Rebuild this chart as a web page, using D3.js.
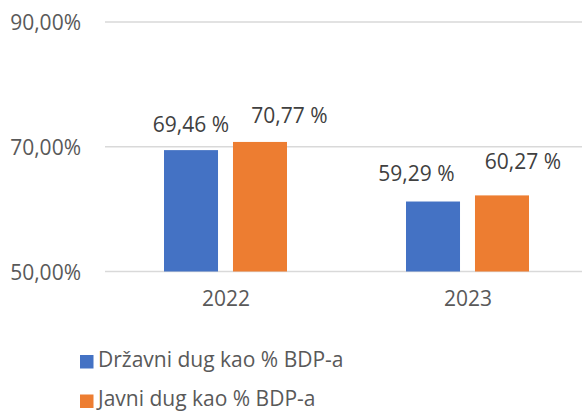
<!DOCTYPE html>
<html>
<head>
<meta charset="utf-8">
<script src="https://cdn.jsdelivr.net/npm/d3@7"></script>
<style>
  body { margin: 0; background: #fff; }
  svg { display: block; font-family: "Open Sans", sans-serif; }
</style>
</head>
<body>
<svg id="chart" width="582" height="412"></svg>
<script>
// data
var years = ['2022', '2023'];
var series_names = ['Državni dug kao % BDP-a', 'Javni dug kao % BDP-a'];
var drzavni = [69.46, 61.22];   // bar heights as drawn
var javni = [70.77, 62.2];
var drzavni_labels = ['69,46 %', '59,29 %'];
var javni_labels = ['70,77 %', '60,27 %'];
var y_ticks = [50, 70, 90];
var colors = ['#4472c4', '#ed7d31'];

// hand-moved data labels (dx, dy) per bar, in draw order
var label_nudge = [[0, 0], [29.5, 0], [-16.5, -2], [21, -8]];

var font_size = '21px';
var svg = d3.select('#chart');

var x0 = d3.scaleBand().domain(years).range([105, 589]).padding(0);
var x1 = d3.scaleBand().domain([0, 1]).range([59, 182]).paddingInner(0.217);
var y = d3.scaleLinear().domain([50, 90]).range([271.5, 22]);

// gridlines
svg.append('g')
    .selectAll('line')
    .data(y_ticks)
    .enter()
    .append('line')
    .attr('x1', 105)
    .attr('x2', 582)
    .attr('y1', function(d){ return y(d); })
    .attr('y2', function(d){ return y(d); })
    .attr('stroke', '#d9d9d9')
    .attr('stroke-width', 1.5);

// y axis labels
var y_axis = d3.axisLeft(y)
    .tickValues(y_ticks)
    .tickSize(0)
    .tickPadding(0)
    .tickFormat(function(t){ return t.toFixed(2).replace('.', ',') + '%'; });

var gy = svg.append('g')
    .attr('transform', 'translate(81,0)')
    .call(y_axis);
gy.select('.domain').remove();
gy.selectAll('text')
    .attr('fill', '#595959')
    .style('font-size', font_size)
    .style('font-family', '"Open Sans", sans-serif')
    .attr('dy', '0.36em');

// x axis labels
var x_axis = d3.axisBottom(x0).tickSize(0).tickPadding(0);
var gx = svg.append('g')
    .attr('transform', 'translate(0,287)')
    .call(x_axis);
gx.select('.domain').remove();
gx.selectAll('text')
    .attr('fill', '#595959')
    .style('font-size', font_size)
    .style('font-family', '"Open Sans", sans-serif')
    .attr('dy', '0.9em');

// bars
var table = [];
years.forEach(function(yr, i){
    table.push({year: yr, s: 0, value: drzavni[i], label: drzavni_labels[i]});
    table.push({year: yr, s: 1, value: javni[i], label: javni_labels[i]});
});

svg.append('g')
    .selectAll('rect')
    .data(table)
    .enter()
    .append('rect')
    .attr('x', function(d){ return x0(d.year) + x1(d.s); })
    .attr('width', x1.bandwidth())
    .attr('y', function(d){ return y(d.value); })
    .attr('height', function(d){ return y(50) - y(d.value); })
    .attr('fill', function(d){ return colors[d.s]; });

svg.append('g')
    .selectAll('text')
    .data(table)
    .enter()
    .append('text')
    .attr('x', function(d, i){ return x0(d.year) + x1(d.s) + x1.bandwidth() / 2 + label_nudge[i][0]; })
    .attr('y', function(d, i){ return y(d.value) - 18.5 + label_nudge[i][1]; })
    .attr('text-anchor', 'middle')
    .attr('fill', '#404040')
    .style('font-size', font_size)
    .text(function(d){ return d.label; });

// legend
var legend = svg.append('g')
    .selectAll('g')
    .data(series_names)
    .enter()
    .append('g')
    .attr('transform', function(d, i){ return 'translate(80,' + (355 + i * 39.5) + ')'; });

legend.append('rect')
    .attr('width', 13.5)
    .attr('height', 13.5)
    .attr('fill', function(d, i){ return colors[i]; });

legend.append('text')
    .attr('x', 18)
    .attr('y', 11.5)
    .attr('fill', '#595959')
    .style('font-size', font_size)
    .text(function(d){ return d; });
</script>
</body>
</html>
